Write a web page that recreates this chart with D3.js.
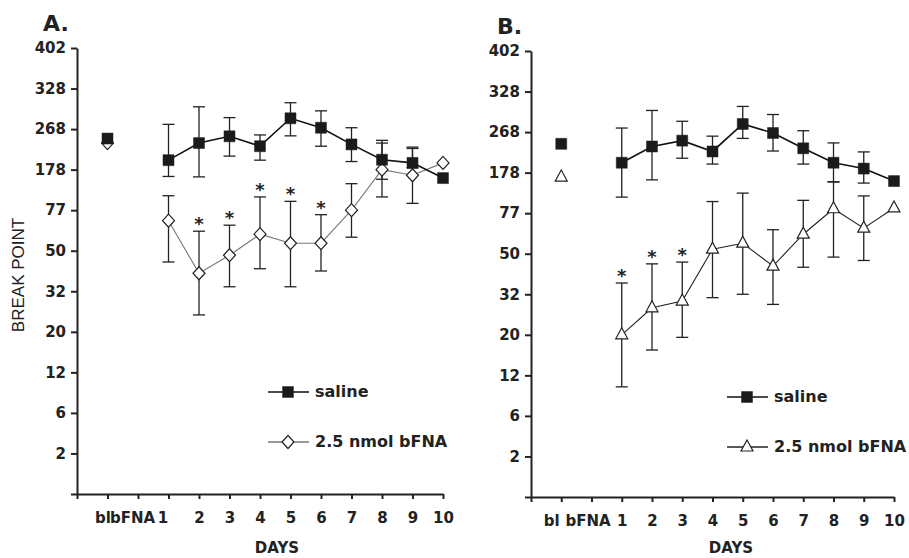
<!DOCTYPE html>
<meta charset="utf-8">
<head>
  <title>Break point</title>
  <script src="https://cdn.jsdelivr.net/npm/d3@7"></script>
  <style>
    body { margin: 0; background: #fff; }
    svg text { fill: #222; }
    .bold { font-family: "DejaVu Sans", sans-serif; font-weight: bold; }
  </style>
</head>
<body>
<div id="chart"></div>
<script>
// category labels on the x axis (one per tick after the origin)
var xLabels = ["bl", "bFNA", "1", "2", "3", "4", "5", "6", "7", "8", "9", "10"];
// y axis is a progressive-ratio scale: equal spacing between these break points
var yTicks = [0, 2, 6, 12, 20, 32, 50, 77, 178, 268, 328, 402];

var cats = ["bl", "1", "2", "3", "4", "5", "6", "7", "8", "9", "10"];

// panel A
var aSalineMean = [247, 199, 237, 252, 230, 284, 270, 234, 200, 193, 157];
var aSalineLo   = [null, 161, 160, 208, 199, 253, 230, 196, 154, 182, null];
var aSalineHi   = [null, 275, 301, 285, 255, 307, 295, 270, 243, 228, null];
var aDrugMean   = [237, 70, 40, 48, 61, 55, 55, 77, 178, 164, 193];
var aDrugLo     = [null, 45, 25, 34, 42, 34, 41, 59, 110, 94, null];
var aDrugHi     = [null, 113, 63, 67, 110, 99, 74, 143, 237, 225, null];
var aStars      = ["2", "3", "4", "5", "6"];

// panel B
var bSalineMean = [242, 200, 236, 249, 225, 280, 266, 232, 200, 187, 157];
var bSalineLo   = [null, 117, 160, 210, 197, 254, 226, 197, 155, 152, null];
var bSalineHi   = [null, 274, 300, 284, 259, 306, 294, 270, 244, 224, null];
var bDrugMean   = [167, 20, 28, 30, 53, 57, 44.5, 63, 88, 67, 90];
var bDrugLo     = [null, 10.3, 17, 19.5, 31, 32, 29, 44, 48.5, 47, null];
var bDrugHi     = [null, 37, 45.5, 46.3, 106, 127, 66, 109, 155, 120, null];
var bStars      = ["1", "2", "3"];

var svg = d3.select("#chart").append("svg")
    .attr("width", 909).attr("height", 558);

var diamond = "M0,-6.5L6,0L0,6.5L-6,0Z";
var triangle = "M0,-7L6,4L-6,4Z";

function rows(mean, lo, hi) {
  return cats.map(function(c, i) { return {cat: c, v: mean[i], lo: lo[i], hi: hi[i]}; });
}

function drawPanel(p) {
  var g = svg.append("g");
  var step = (p.bottom - p.top) / (yTicks.length - 1);
  var y = d3.scaleLinear()
      .domain(yTicks)
      .range(yTicks.map(function(d, i) { return p.bottom - i * step; }));
  var x = d3.scaleLinear().domain([0, xLabels.length]).range([p.left, p.right]);
  var xc = function(c) { return x(xLabels.indexOf(c) + 1); };

  // axes
  var yAxis = d3.axisLeft(y).tickValues(yTicks).tickSize(6).tickSizeOuter(0).tickPadding(5)
      .tickFormat(function(d) { return d === 0 ? "" : d; });
  var ya = g.append("g").attr("transform", "translate(" + p.left + ",0)").call(yAxis);
  var xAxis = d3.axisBottom(x).tickValues(d3.range(0, xLabels.length + 1)).tickSize(5)
      .tickSizeOuter(0).tickPadding(13)
      .tickFormat(function(i) { return i === 0 ? "" : xLabels[i - 1]; });
  var xa = g.append("g").attr("transform", "translate(0," + p.bottom + ")").call(xAxis);
  [ya, xa].forEach(function(a) {
    a.selectAll("path, line").attr("stroke", "#222").attr("stroke-width", 2);
    a.selectAll("text").attr("class", "bold").style("font-size", "15px").attr("fill", "#222");
  });
  xa.selectAll(".tick text").attr("dx", function(i) { return p.labelShift[i] || 0; });

  // panel letter and x title
  g.append("text").attr("class", "bold").attr("x", p.left - 34).attr("y", p.top - 17)
      .style("font-size", "22px").text(p.letter);
  g.append("text").attr("class", "bold").attr("x", p.daysX).attr("y", 553)
      .attr("text-anchor", "middle").style("font-size", "15px").text("DAYS");

  function series(data, lineColor) {
    var days = data.filter(function(d) { return d.cat !== "bl"; });
    var bars = g.append("g").selectAll("g").data(data.filter(function(d) { return d.lo != null; }))
        .enter().append("g").attr("stroke", "#222").attr("stroke-width", 1.3);
    bars.append("line").attr("x1", function(d) { return xc(d.cat); }).attr("x2", function(d) { return xc(d.cat); })
        .attr("y1", function(d) { return y(d.lo); }).attr("y2", function(d) { return y(d.hi); });
    ["lo", "hi"].forEach(function(k) {
      bars.append("line").attr("x1", function(d) { return xc(d.cat) - 6; }).attr("x2", function(d) { return xc(d.cat) + 6; })
          .attr("y1", function(d) { return y(d[k]); }).attr("y2", function(d) { return y(d[k]); });
    });
    g.append("path").datum(days)
        .attr("d", d3.line().x(function(d) { return xc(d.cat); }).y(function(d) { return y(d.v); }))
        .attr("fill", "none").attr("stroke", lineColor.c).attr("stroke-width", lineColor.w);
  }
  function markers(data, marker) {
    g.append("g").selectAll("path").data(data).enter().append("path")
        .attr("transform", function(d) { return "translate(" + xc(d.cat) + "," + y(d.v) + ")"; })
        .attr("d", marker.d).attr("fill", marker.fill).attr("stroke", "#222").attr("stroke-width", marker.sw);
  }

  var sal = rows(p.salMean, p.salLo, p.salHi);
  var drug = rows(p.drugMean, p.drugLo, p.drugHi);
  series(drug, p.drugLine);
  series(sal, {c: "#111", w: 1.6});
  var squareM = {d: d3.symbol(d3.symbolSquare, 121)(), fill: "#1a1a1a", sw: 0.5};
  var drugM = {d: p.drugShape, fill: "#fff", sw: 1.2};
  markers(drug, drugM);
  markers(sal, squareM);

  // significance stars above the upper error cap
  g.append("g").selectAll("text").data(p.stars).enter().append("text")
      .attr("class", "bold").attr("text-anchor", "middle").style("font-size", "18px")
      .attr("x", function(c) { return xc(c); })
      .attr("y", function(c) { return y(p.drugHi[cats.indexOf(c)]) - 1; })
      .text("*");

  // legend
  var lg = g.append("g").attr("transform", "translate(" + p.legend[0] + "," + p.legend[1] + ")");
  [{m: squareM, t: "saline", dy: 0, c: "#111"}, {m: drugM, t: "2.5 nmol bFNA", dy: 50, c: p.drugLine.c}]
    .forEach(function(e) {
      lg.append("line").attr("x1", 0).attr("x2", 41).attr("y1", e.dy).attr("y2", e.dy)
          .attr("stroke", e.c).attr("stroke-width", 1.3);
      lg.append("path").attr("transform", "translate(20," + e.dy + ")").attr("d", e.m.d)
          .attr("fill", e.m.fill).attr("stroke", "#222").attr("stroke-width", e.m.sw);
      lg.append("text").attr("class", "bold").attr("x", 47).attr("y", e.dy + 5)
          .style("font-size", "16px").text(e.t);
    });
}

drawPanel({
  letter: "A.", left: 77, right: 443, top: 48, bottom: 494, daysX: 277,
  labelShift: {1: -5, 2: -6, 3: -6},
  salMean: aSalineMean, salLo: aSalineLo, salHi: aSalineHi,
  drugMean: aDrugMean, drugLo: aDrugLo, drugHi: aDrugHi,
  drugShape: diamond, drugLine: {c: "#777", w: 1.1}, stars: aStars,
  legend: [268, 392]
});
drawPanel({
  letter: "B.", left: 531, right: 894, top: 51, bottom: 497, daysX: 731,
  labelShift: {1: -10, 2: -4, 3: 0},
  salMean: bSalineMean, salLo: bSalineLo, salHi: bSalineHi,
  drugMean: bDrugMean, drugLo: bDrugLo, drugHi: bDrugHi,
  drugShape: triangle, drugLine: {c: "#222", w: 1.1}, stars: bStars,
  legend: [727, 397]
});

// shared y label
svg.append("text").attr("transform", "translate(24,275) rotate(-90)")
    .attr("text-anchor", "middle").style("font-family", "'Liberation Sans', Arial, sans-serif")
    .style("font-size", "17px").text("BREAK POINT");
</script>
</body>
